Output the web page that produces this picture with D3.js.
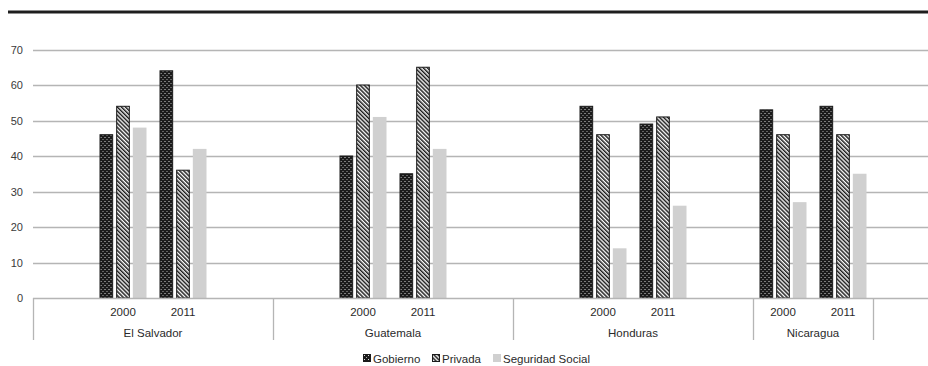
<!DOCTYPE html>
<html>
<head>
<meta charset="utf-8">
<script src="https://cdn.jsdelivr.net/npm/d3@7"></script>
<style>
  html, body { margin: 0; padding: 0; background: #fff; }
  svg { display: block; font-family: "Liberation Sans", Arial, Helvetica, sans-serif; }
</style>
</head>
<body>
<svg id="chart" width="928" height="366"></svg>
<script>
// Health expenditure shares by source (%), two survey years per country
const countries = ["El Salvador", "Guatemala", "Honduras", "Nicaragua"];
const years = ["2000", "2011"];
// empty category slots before/after each country's years on the axis
const blankBefore = [1, 1, 1, 0];
const blankAfter = [1, 1, 1, 0];
const seriesNames = ["Gobierno", "Privada", "Seguridad Social"];
// values in order: country by country, year by year
const gobierno  = [46, 64, 40, 35, 54, 49, 53, 54];
const privada   = [54, 36, 60, 65, 46, 51, 46, 46];
const seguridad = [48, 42, 51, 42, 14, 26, 27, 35];
const yTicks = [0, 10, 20, 30, 40, 50, 60, 70];

(function () {
const svg = d3.select("#chart");
const W = 928;
const plotLeft = 33, plotBottom = 298, plotTop = 49.5;
const slotW = 60;

// build slot list for the category axis
const slots = [];
const countrySpans = [];
countries.forEach((c, ci) => {
  const start = slots.length;
  for (let i = 0; i < blankBefore[ci]; i++) slots.push({ country: c, year: null });
  years.forEach((yr, yi) => slots.push({ country: c, year: yr, idx: ci * years.length + yi }));
  for (let i = 0; i < blankAfter[ci]; i++) slots.push({ country: c, year: null });
  countrySpans.push({ country: c, start, end: slots.length });
});

const x0 = d3.scaleBand()
  .domain(d3.range(slots.length))
  .range([plotLeft, plotLeft + slotW * slots.length])
  .padding(0);

const x1 = d3.scaleBand()
  .domain(seriesNames)
  .range([0, 47])
  .paddingInner(0.18);

const y = d3.scaleLinear().domain([0, 70]).range([plotBottom, plotTop]);

// patterns
const defs = svg.append("defs");
const dots = defs.append("pattern")
  .attr("id", "pat-gob").attr("patternUnits", "userSpaceOnUse")
  .attr("width", 4).attr("height", 4);
dots.append("rect").attr("width", 4).attr("height", 4).attr("fill", "#1b1b1b");
dots.append("rect").attr("x", 1).attr("y", 1).attr("width", 1).attr("height", 1).attr("fill", "#e0e0e0");
dots.append("rect").attr("x", 3).attr("y", 3).attr("width", 1).attr("height", 1).attr("fill", "#a8a8a8");

const stripes = defs.append("pattern")
  .attr("id", "pat-priv").attr("patternUnits", "userSpaceOnUse")
  .attr("width", 2.9).attr("height", 6)
  .attr("patternTransform", "rotate(-45)");
stripes.append("rect").attr("width", 2.9).attr("height", 6).attr("fill", "#fff");
stripes.append("rect").attr("width", 1.5).attr("height", 6).attr("fill", "#1b1b1b");

const fills = {
  "Gobierno": "url(#pat-gob)",
  "Privada": "url(#pat-priv)",
  "Seguridad Social": "#d0d0d0"
};
const strokes = {
  "Gobierno": "#1b1b1b",
  "Privada": "#1b1b1b",
  "Seguridad Social": "none"
};

// top rule
svg.append("rect").attr("x", 8).attr("y", 10.5).attr("width", W - 8).attr("height", 3).attr("fill", "#1e1e1e");

// gridlines
svg.append("g").selectAll("line")
  .data(yTicks.filter(t => t > 0))
  .join("line")
  .attr("x1", plotLeft).attr("x2", W)
  .attr("y1", d => Math.round(y(d)) + 0.5).attr("y2", d => Math.round(y(d)) + 0.5)
  .attr("stroke", "#b5b5b5").attr("stroke-width", 1.3);

// y axis labels
const yAxis = d3.axisLeft(y).tickValues(yTicks).tickSize(0).tickPadding(10);
const gy = svg.append("g").attr("transform", `translate(${plotLeft},0)`).call(yAxis);
gy.select(".domain").remove();
gy.selectAll("text").attr("font-size", 11).attr("fill", "#3a3a3a")
  .attr("font-family", "'Liberation Sans', Arial, sans-serif");

// bars
const seriesValues = { "Gobierno": gobierno, "Privada": privada, "Seguridad Social": seguridad };
const filled = slots.map((s, i) => ({ ...s, slot: i })).filter(s => s.year !== null);
const groups = svg.append("g").selectAll("g")
  .data(filled)
  .join("g")
  .attr("transform", d => `translate(${x0(d.slot) + (slotW - 47) / 2},0)`);

groups.selectAll("rect")
  .data(d => seriesNames.map(n => ({ name: n, value: seriesValues[n][d.idx] })))
  .join("rect")
  .attr("x", d => x1(d.name) + (strokes[d.name] === "none" ? 0 : 0.5))
  .attr("y", d => y(d.value))
  .attr("width", d => x1.bandwidth() - (strokes[d.name] === "none" ? 0 : 1))
  .attr("height", d => plotBottom - y(d.value))
  .attr("fill", d => fills[d.name])
  .attr("stroke", d => strokes[d.name])
  .attr("stroke-width", 1);

// category axis line
svg.append("line")
  .attr("x1", plotLeft).attr("x2", W)
  .attr("y1", plotBottom + 0.5).attr("y2", plotBottom + 0.5)
  .attr("stroke", "#b5b5b5").attr("stroke-width", 1.3);

// country separators
const sepX = [countrySpans[0].start].concat(countrySpans.map(s => s.end))
  .map(i => i < slots.length ? x0(i) : x0(slots.length - 1) + slotW);
svg.append("g").selectAll("line")
  .data(sepX)
  .join("line")
  .attr("x1", d => Math.round(d) + 0.5).attr("x2", d => Math.round(d) + 0.5)
  .attr("y1", plotBottom).attr("y2", 340)
  .attr("stroke", "#b5b5b5").attr("stroke-width", 1.3);

// year labels
svg.append("g").selectAll("text")
  .data(filled)
  .join("text")
  .attr("x", d => x0(d.slot) + slotW / 2)
  .attr("y", 316)
  .attr("text-anchor", "middle")
  .attr("font-size", 11.5)
  .attr("fill", "#2a2a2a")
  .text(d => d.year);

// country labels
svg.append("g").selectAll("text")
  .data(countrySpans)
  .join("text")
  .attr("x", d => (x0(d.start) + x0(d.end - 1) + slotW) / 2)
  .attr("y", 337)
  .attr("text-anchor", "middle")
  .attr("font-size", 11.5)
  .attr("fill", "#2a2a2a")
  .text(d => d.country);

// legend
const legendX = [363, 432, 493];
const lg = svg.append("g").selectAll("g")
  .data(seriesNames)
  .join("g")
  .attr("transform", (d, i) => `translate(${legendX[i]},354)`);
lg.append("rect")
  .attr("x", d => strokes[d] === "none" ? 0 : 0.5)
  .attr("y", d => strokes[d] === "none" ? 0 : 0.5)
  .attr("width", d => strokes[d] === "none" ? 8 : 7)
  .attr("height", d => strokes[d] === "none" ? 8 : 7)
  .attr("fill", d => fills[d])
  .attr("stroke", d => strokes[d]);
lg.append("text")
  .attr("x", 10)
  .attr("y", 8.5)
  .attr("font-size", 11.5)
  .attr("fill", "#2a2a2a")
  .text(d => d);
})();
</script>
</body>
</html>
